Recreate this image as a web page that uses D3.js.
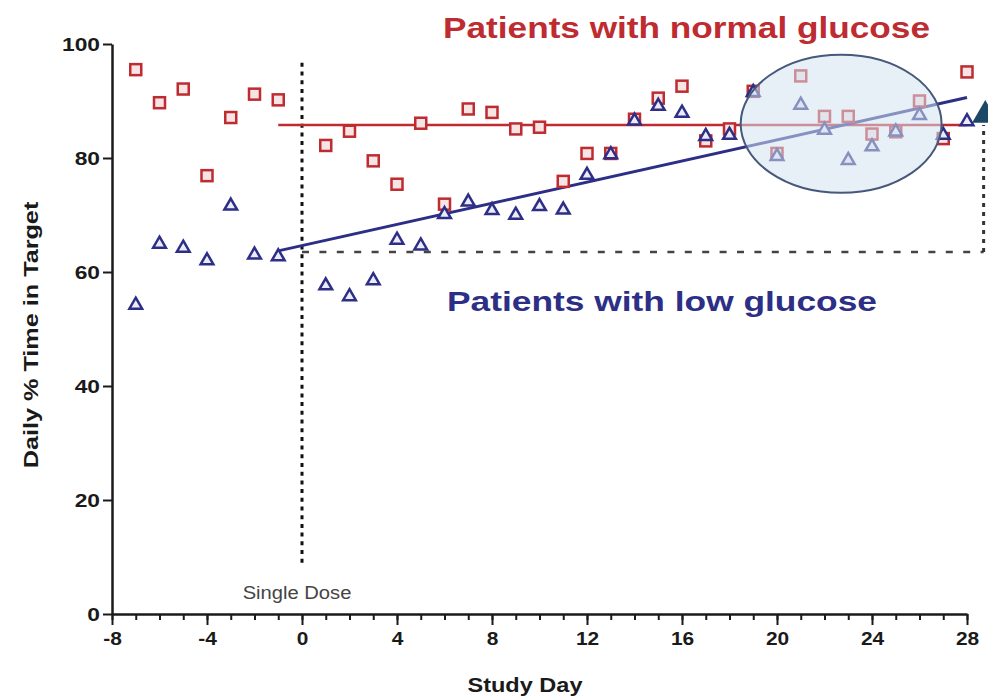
<!DOCTYPE html>
<html>
<head>
<meta charset="utf-8">
<script src="https://cdn.jsdelivr.net/npm/d3@7"></script>
<style>
  body { margin: 0; background: #fff; }
  svg { display: block; font-family: "Liberation Sans", Arial, Helvetica, sans-serif; }
</style>
</head>
<body>
<div id="vis"></div>
<script>
// study days (no measurement on day 0)
const days = [-7, -6, -5, -4, -3, -2, -1,
  1, 2, 3, 4, 5, 6, 7, 8, 9, 10, 11, 12, 13, 14,
  15, 16, 17, 18, 19, 20, 21, 22, 23, 24, 25, 26, 27, 28];
const normalGlucose = [95.5, 89.7, 92.1, 76.9, 87.1, 91.2, 90.2,
  82.2, 84.7, 79.5, 75.4, 86.1, 71.9, 88.6, 88.0, 85.1, 85.4, 75.9, 80.8, 80.8, 86.8,
  90.5, 92.6, 83.0, 85.1, 91.7, 80.8, 94.4, 87.3, 87.3, 84.2, 84.6, 90.0, 83.4, 95.1];
const lowGlucose = [54.2, 64.9, 64.2, 62.0, 71.6, 63.0, 62.7,
  57.6, 55.7, 58.5, 65.6, 64.6, 70.1, 72.3, 70.8, 70.0, 71.5, 70.9, 77.0, 80.6, 86.5,
  89.1, 87.9, 83.8, 84.0, 91.5, 80.3, 89.3, 84.9, 79.6, 82.0, 84.6, 87.5, 84.0, 86.4];

// fitted lines [day, value]
const normalFit = [[-1, 85.8], [28, 85.8]];
const lowFit = [[-1, 63.7], [28, 90.6]];
const baseline = [[0, 63.5], [28.7, 63.5]];
const gainLine = [[28.7, 63.5], [28.7, 85.8]];
const doseLine = [[0, 9], [0, 97]];
const gainArrow = [28.77, 87.5];
const cluster = { day: 22.7, value: 86, rDay: 4.23, rValue: 12.1 };

const yTicks = [0, 20, 40, 60, 80, 100];
const xTicks = [-8, -4, 0, 4, 8, 12, 16, 20, 24, 28];

const red = "#be2b31", navy = "#2c2f85";
const W = 988, H = 698;

const svg = d3.select("#vis").append("svg").attr("width", W).attr("height", H);

const x = d3.scaleLinear().domain([-8, 28]).range([112, 967]);
const y = d3.scaleLinear().domain([0, 100]).range([614, 44]);

// font in the picture is wider than Liberation Sans
function widen(sel, k) {
  sel.each(function () {
    const w = this.getComputedTextLength();
    d3.select(this).attr("textLength", w * k).attr("lengthAdjust", "spacingAndGlyphs");
  });
}

const line = d3.line().x(d => x(d[0])).y(d => y(d[1]));

// reference lines
svg.append("path").attr("d", line(doseLine))
  .attr("fill", "none").attr("stroke", "#111").attr("stroke-width", 3)
  .attr("stroke-dasharray", "4,4.7");
svg.append("path").attr("d", line(baseline))
  .attr("fill", "none").attr("stroke", "#444").attr("stroke-width", 2.5)
  .attr("stroke-dasharray", "7,10.4");
svg.append("path").attr("d", line(gainLine))
  .attr("fill", "none").attr("stroke", "#333").attr("stroke-width", 3)
  .attr("stroke-dasharray", "4,5");

// fits
svg.append("path").attr("d", line(normalFit))
  .attr("fill", "none").attr("stroke", red).attr("stroke-width", 2.5);
svg.append("path").attr("d", line(lowFit))
  .attr("fill", "none").attr("stroke", navy).attr("stroke-width", 3);

// points
const pts = days.map((d, i) => ({ day: d, normal: normalGlucose[i], low: lowGlucose[i] }));

svg.append("g").selectAll("rect").data(pts).join("rect")
  .attr("x", d => x(d.day) - 5.5).attr("y", d => y(d.normal) - 5.5)
  .attr("width", 11).attr("height", 11)
  .attr("fill", "#f7e4e4").attr("stroke", red).attr("stroke-width", 2.5);

const tri = d3.symbol().type(d3.symbolTriangle).size(70);
svg.append("g").selectAll("path").data(pts).join("path")
  .attr("d", tri)
  .attr("transform", d => `translate(${x(d.day)},${y(d.low)})`)
  .attr("fill", "#ecebf7").attr("stroke", navy).attr("stroke-width", 2.5)
  .attr("stroke-linejoin", "miter");

// highlighted cluster
svg.append("ellipse")
  .attr("cx", x(cluster.day)).attr("cy", y(cluster.value))
  .attr("rx", x(cluster.day + cluster.rDay) - x(cluster.day))
  .attr("ry", y(cluster.value - cluster.rValue) - y(cluster.value))
  .attr("fill", "#d3e1f0").attr("fill-opacity", 0.55)
  .attr("stroke", "#46597a").attr("stroke-width", 2);

// gain arrow head
svg.append("path")
  .attr("d", d3.symbol().type(d3.symbolTriangle).size(300))
  .attr("transform", `translate(${x(gainArrow[0])},${y(gainArrow[1])})`)
  .attr("fill", "#1c4868");

// axes
const yAxis = svg.append("g").attr("transform", `translate(${x(-8)},0)`)
  .call(d3.axisLeft(y).tickValues(yTicks).tickSize(9).tickSizeOuter(0).tickPadding(3)
    .tickFormat(d => String(d)));
const xMinor = svg.append("g").attr("transform", `translate(0,${y(0)})`)
  .call(d3.axisBottom(x).tickValues(d3.range(-8, 29, 1)).tickSize(6).tickSizeOuter(0).tickFormat(""));
const xAxis = svg.append("g").attr("transform", `translate(0,${y(0)})`)
  .call(d3.axisBottom(x).tickValues(xTicks).tickSize(11).tickSizeOuter(0).tickPadding(7)
    .tickFormat(d => String(d)));

[yAxis, xMinor, xAxis].forEach(g => {
  g.select(".domain").attr("stroke", "#1a1a1a").attr("stroke-width", 2.5);
  g.selectAll(".tick line").attr("stroke", "#1a1a1a").attr("stroke-width", 2);
  g.selectAll(".tick text").attr("fill", "#1a1a1a")
    .style("font-size", "19px").style("font-weight", "bold");
});
xMinor.select(".domain").remove();
widen(yAxis.selectAll(".tick text"), 1.2);
widen(xAxis.selectAll(".tick text"), 1.1);

// axis titles
const xTitle = svg.append("text").attr("x", 525).attr("y", 692)
  .attr("text-anchor", "middle").attr("fill", "#1a1a1a")
  .style("font-size", "21px").style("font-weight", "bold").text("Study Day");
widen(xTitle, 1.12);
const yTitle = svg.append("text")
  .attr("transform", "translate(38,335) rotate(-90)")
  .attr("text-anchor", "middle").attr("fill", "#1a1a1a")
  .style("font-size", "21px").style("font-weight", "bold").text("Daily % Time in Target");
widen(yTitle, 1.2);

// annotations
const dose = svg.append("text").attr("x", 297).attr("y", 599)
  .attr("text-anchor", "middle").attr("fill", "#444")
  .style("font-size", "18px").text("Single Dose");
widen(dose, 1.12);

svg.append("text").attr("x", 443).attr("y", 38)
  .attr("fill", red).style("font-size", "30px").style("font-weight", "bold")
  .attr("textLength", 487).attr("lengthAdjust", "spacingAndGlyphs")
  .text("Patients with normal glucose");
svg.append("text").attr("x", 447).attr("y", 311)
  .attr("fill", navy).style("font-size", "28px").style("font-weight", "bold")
  .attr("textLength", 430).attr("lengthAdjust", "spacingAndGlyphs")
  .text("Patients with low glucose");
</script>
</body>
</html>
